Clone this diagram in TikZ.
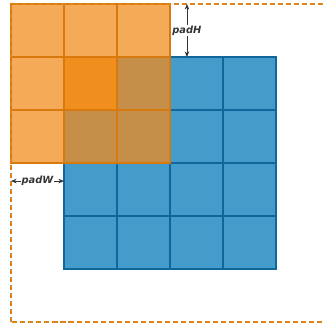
\documentclass[tikz,border=0pt]{standalone}
\usepackage{fontspec}
\setsansfont{DejaVu Sans}
\usepackage{tikz}
\usetikzlibrary{arrows.meta}

\definecolor{inblue}{HTML}{449CCB}
\definecolor{inblueedge}{HTML}{0F679B}
\definecolor{kerorange}{HTML}{F5AA58}
\definecolor{kerhot}{HTML}{F08E1E}
\definecolor{kermix}{HTML}{C58F4A}
\definecolor{keredge}{HTML}{D7790C}
\definecolor{padline}{HTML}{E0821A}
\definecolor{labgray}{HTML}{333333}

\tikzset{
    bluecell/.style={draw=inblueedge, fill=inblue, line width=1pt},
    kercell/.style={draw=keredge, line width=1pt},
    padbox/.style={draw=padline, line width=1.1pt, dash pattern=on 2.7pt off 1.6pt},
    dimarrow/.style={{Stealth[length=3pt,width=2.4pt]}-{Stealth[length=3pt,width=2.4pt]}, labgray, line width=0.4pt},
    dimlabel/.style={fill=white, inner sep=0.6pt, text=labgray, font=\sffamily\bfseries\itshape\fontsize{5.3}{6}\selectfont}
}

\begin{document}
\begin{tikzpicture}
    % --- PAGE FRAME ---
    \clip (-0.2075,-0.075) rectangle (5.887,6.076);

    % --- INPUT GRID (BLUE) ---
    \foreach \x in {1,...,4}
        \foreach \y in {1,...,4}
            \draw[bluecell] (\x,\y) rectangle ++(1,1);

    % --- KERNEL GRID (ORANGE) ---
    \foreach \x in {0,1,2}
        \foreach \y in {3,4,5}
            \draw[kercell, fill=kerorange] (\x,\y) rectangle ++(1,1);
    % overlap cells
    \foreach \x/\y in {2/4,1/3,2/3}
        \draw[kercell, fill=kermix] (\x,\y) rectangle ++(1,1);
    \draw[kercell, fill=kerhot] (1,4) rectangle ++(1,1);

    % --- PADDED REGION ---
    \draw[padbox] (0,0) rectangle (6,6);

    % --- PADDING DIMENSIONS ---
    \coordinate (hTop) at (3.32,6);
    \coordinate (hBot) at (3.32,5);
    \coordinate (wLeft) at (0,2.66);
    \coordinate (wRight) at (1,2.66);
    \draw[dimarrow] (hTop) -- (hBot) node[midway, dimlabel] (padH) {padH};
    \draw[dimarrow] (wLeft) -- (wRight) node[midway, dimlabel] (padW) {padW};
\end{tikzpicture}
\end{document}
